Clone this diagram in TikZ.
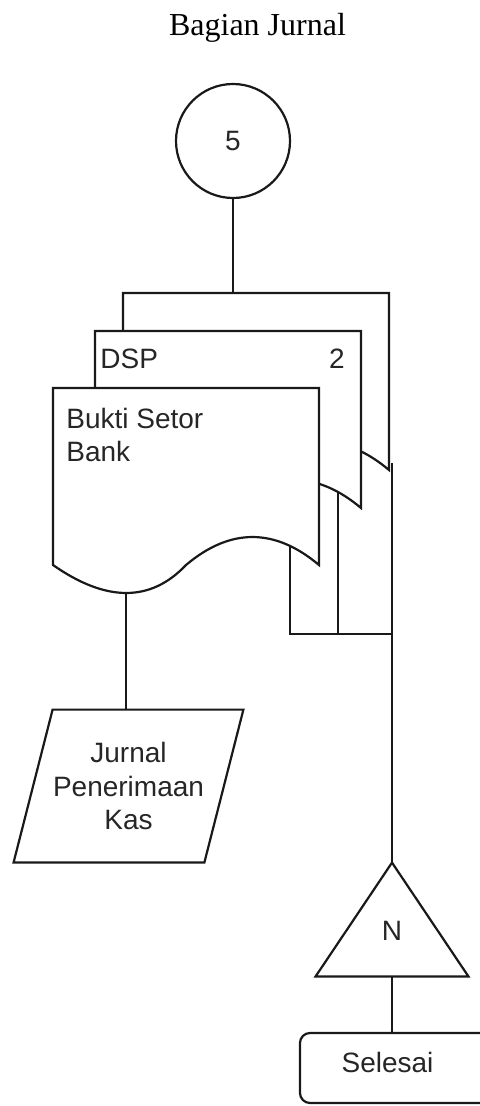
\documentclass[tikz,border=0pt]{standalone}
\usepackage{fontspec}
\setmainfont{Liberation Serif}
\newfontfamily\arialfont{Liberation Sans}
\usepackage{tikz}

% a paper document with a wavy foot; #1 name, #2 top left corner, #3 where its line leaves the wave
\newcommand{\dokumen}[3]{%
  \begin{scope}[shift={(#2)}]
    \draw[garis, fill=white] (0,0) coordinate (#1-nw) -- (266,0) coordinate (#1-ne)
      -- (266,177) coordinate (#1-se)
      .. controls (221.7,139.7) and (177.3,139.7) .. coordinate[pos=#3] (#1-kaki) (133,177)
      .. controls (97.7,214.3) and (53.3,214.3) .. (0,177) -- cycle;
    \coordinate (#1-bawah) at (73.2,205);
  \end{scope}}

\begin{document}
\begin{tikzpicture}[x=0.5pt, y=-0.5pt,
    garis/.style={draw=black!90, line width=1.1pt},
    teks/.style={font=\arialfont\fontsize{14}{16.8}\selectfont, text=black!85},
    judul/.style={font=\fontsize{16}{19}\selectfont, inner sep=0}]
  \path[use as bounding box, clip] (0,0) rectangle (480,1106);
  % ---------------------------------------------------------------- title and off-page connector
  \node[judul, anchor=base] (judul) at (257.5,36) {Bagian Jurnal};
  \node[garis, teks, circle, minimum size=57pt, inner sep=0] (lima) at (233,141) {5};
  % ---------------------------------------------------------------- the three copies, back to front
  \dokumen{dok3}{123,293}{0}
  \dokumen{dok2}{95,331}{0.173}
  \dokumen{dok1}{53,388}{0.218}
  \node[teks, anchor=base west, inner sep=0] (dsp) at (100,369) {DSP};
  \node[teks, anchor=base east, inner sep=0] (lembar) at (345,369) {2};
  \node[teks, anchor=north west, align=left, inner sep=0] (bukti) at (66,407.5) {Bukti Setor\\Bank};
  \draw[garis] (lima.south) -- (lima.south |- dok3-nw);
  % ---------------------------------------------------------------- journal
  \node[teks, align=center, minimum width=114.5pt, minimum height=76pt, inner sep=0] (jurnal) at (128.5,786) {Jurnal\\Penerimaan\\Kas};
  \draw[garis] ([xshift=19.5pt]jurnal.north west) -- (jurnal.north east)
    -- ([xshift=-19.5pt]jurnal.south east) -- (jurnal.south west) -- cycle;
  \draw[garis] (dok1-bawah) -- (dok1-bawah |- jurnal.north);
  % ---------------------------------------------------------------- filed by number, then end
  \node[teks, minimum width=76pt, minimum height=56.5pt, text height=20.5pt, text depth=0pt, inner sep=0] (akhir) at (392,919.5) {N};
  \draw[garis] (akhir.north) -- (akhir.south east) -- (akhir.south west) -- cycle;
  \coordinate (gabung) at (392,634);
  \draw[garis] (dok1-kaki) |- (gabung);
  \draw[garis] (dok2-kaki) -- (dok2-kaki |- gabung);
  \draw[garis] (akhir.north |- 0,463) -- (akhir.north);
  % the end box runs off the right edge of the page
  \node[garis, teks, rounded corners=5pt, text width=80pt, align=left, inner xsep=20.8pt, minimum height=35pt, text height=10pt, text depth=6pt] (selesai) at (421.6,1068) {Selesai};
  \draw[garis] (akhir.south) -- (akhir.south |- selesai.north);
\end{tikzpicture}
\end{document}
